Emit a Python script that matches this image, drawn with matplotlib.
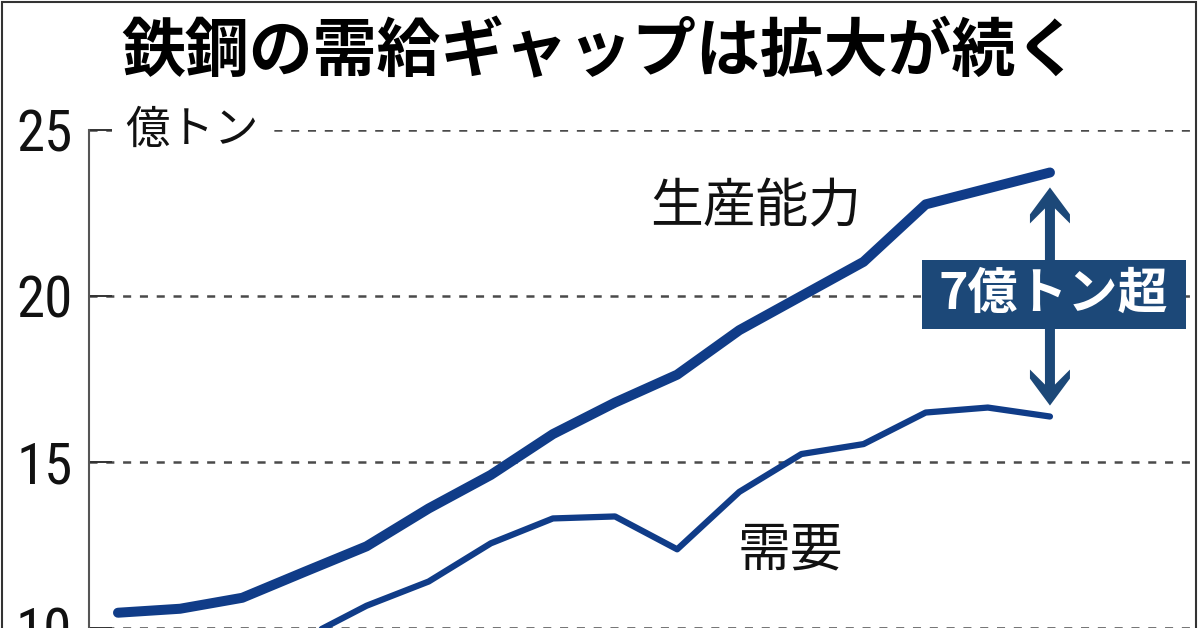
import matplotlib
matplotlib.use("Agg")
import matplotlib.pyplot as plt
from matplotlib.patches import Polygon, Rectangle
from matplotlib.transforms import IdentityTransform
from matplotlib import font_manager as fm

plt.rcParams['font.family'] = ['Noto Sans CJK JP', 'DejaVu Sans']
plt.rcParams['lines.scale_dashes'] = False

# ---- data (億トン) ----
years = list(range(2000, 2016))
capacity = [10.46, 10.58, 10.91, 11.69, 12.46, 13.60, 14.61, 15.84,
            16.79, 17.63, 18.97, 20.00, 21.03, 22.76, 23.24, 23.72]
demand = [8.5, 8.5, 9.0, 9.7, 10.67, 11.40, 12.55, 13.30,
          13.36, 12.37, 14.10, 15.24, 15.54, 16.49, 16.64, 16.37]
yticks = [10, 15, 20, 25]

title = "鉄鋼の需給ギャップは拡大が続く"
unit_label = "億トン"
cap_label = "生産能力"
dem_label = "需要"
gap_label = "7億トン超"

LINE = '#103c88'
BOX = '#1c4878'
GRID = '#4a4a4a'

available = {f.name for f in fm.fontManager.ttflist}
tick_fams = [f for f in ['Roboto Condensed', 'IBM Plex Sans Condensed',
                         'Archivo Narrow', 'PT Sans Narrow', 'Liberation Sans']
             if f in available] + ['DejaVu Sans']

W, H = 1200, 628
fig = plt.figure(figsize=(W / 100, H / 100), dpi=100)
fig.patch.set_facecolor('white')

ax = fig.add_axes([89 / W, 0, (1195 - 89) / W, 1 - 130 / H])
ax.set_xlim(2000 - 29 / 62.13, 2000 + (1195 - 118) / 62.13)
ax.set_ylim(25 - (628 - 130) / 33.5, 25)

for s in ['top', 'right', 'bottom']:
    ax.spines[s].set_visible(False)
ax.spines['left'].set_color('#555555')
ax.spines['left'].set_linewidth(1.5)

ax.set_xticks([])
ax.set_yticks(yticks)
ax.set_yticklabels([str(v) for v in yticks], family=tick_fams[:1] + ['DejaVu Sans'],
                   fontsize=41)
ax.tick_params(axis='y', direction='in', length=16.5, width=1.4,
               color='#333333', pad=12, labelcolor='#111111')
for v in yticks:
    ax.axhline(v, color=GRID, lw=1.8, ls=(0, (5.8, 6.3)), zorder=1)

ax.plot(years, capacity, color=LINE, lw=7.2, solid_capstyle='round',
        solid_joinstyle='round', zorder=4, clip_on=False)
ax.plot(years, demand, color=LINE, lw=4.5, solid_capstyle='round',
        solid_joinstyle='round', zorder=4)

# unit label with white background over the 25 gridline
ax.text(2000 + (125 - 118) / 62.13, 25, unit_label, fontsize=32,
        ha='left', va='center', color='#111111', zorder=3,
        bbox=dict(boxstyle='square,pad=0.3', fc='white', ec='none'))

ax.text(2010.27, 22.67, cap_label, fontsize=38, ha='center', va='center',
        color='#111111', zorder=5)
ax.text(2010.82, 12.34, dem_label, fontsize=38, ha='center', va='center',
        color='#111111', zorder=5)

# gap arrow (double headed) at last year
fig.canvas.draw()
X, T = ax.transData.transform((years[-1], capacity[-1] - 0.45))
_, B = ax.transData.transform((years[-1], demand[-1] + 0.33))
hw, al, ab, sj, sw = 20, 27, 36, 21, 5
verts = [(X, T), (X + hw, T - al), (X + hw, T - ab), (X + sw, T - sj),
         (X + sw, B + sj), (X + hw, B + ab), (X + hw, B + al), (X, B),
         (X - hw, B + al), (X - hw, B + ab), (X - sw, B + sj),
         (X - sw, T - sj), (X - hw, T - ab), (X - hw, T - al)]
ax.add_patch(Polygon(verts, closed=True, transform=IdentityTransform(),
                     fc=BOX, ec='none', zorder=6))

mid = (capacity[-1] + demand[-1]) / 2
bw, bh = 264 / 62.13, 69 / 33.5
ax.add_patch(Rectangle((years[-1] + 0.06 - bw / 2, mid - bh / 2), bw, bh,
                       fc=BOX, ec='none', zorder=7))
ax.text(years[-1] + 0.06, mid, gap_label, fontsize=36, fontweight='bold',
        color='white', ha='center', va='center', zorder=8)

fig.text(0.5, 1 - 53 / H, title, fontsize=46, fontweight='bold',
         ha='center', va='center', color='#000000')

# outer frame
fig.add_artist(Rectangle((2 / W, -0.01), (1196 - 2) / W, 1.01 - 1.5 / H,
                         transform=fig.transFigure, fill=False,
                         ec='#333333', lw=1.5))

fig.savefig('out.png', dpi=100, facecolor='white')
